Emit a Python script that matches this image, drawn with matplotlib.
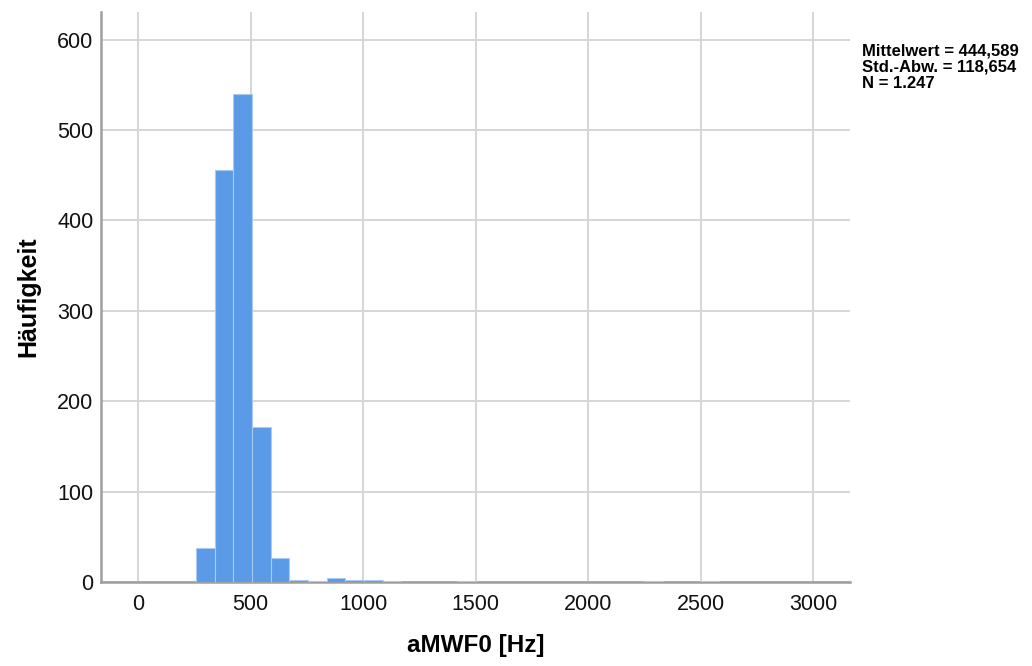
import numpy as np
import matplotlib
matplotlib.use("Agg")
import matplotlib.pyplot as plt

# Histogram of aMWF0 [Hz]: bin edges and counts
bin_start = 257.0
bin_width = 83.0
bin_index = [0, 1, 2, 3, 4, 5, 6, 7, 8, 9, 10, 14, 24, 27]
counts = [38, 456, 540, 171, 27, 2, 1, 4, 2, 2, 1, 1, 1, 1]

x_ticks = [0, 500, 1000, 1500, 2000, 2500, 3000]
y_ticks = [0, 100, 200, 300, 400, 500, 600]
x_label = "aMWF0 [Hz]"
y_label = "Häufigkeit"
stats_lines = ["Mittelwert = 444,589", "Std.-Abw. = 118,654", "N = 1.247"]

plt.rcParams['font.family'] = ['Liberation Sans', 'DejaVu Sans']

fig = plt.figure(figsize=(10.32, 6.66), dpi=100)
W, H = 1032, 666
ax = fig.add_axes([101 / W, 1 - 582 / H, (850 - 101) / W, (582 - 12) / H])

lefts = [bin_start + i * bin_width for i in bin_index]
ax.bar(lefts, counts, width=bin_width, align='edge', color='#5A9AE7',
       edgecolor='#A9CBF3', linewidth=0.8, zorder=3)

ax.set_xlim(-165, 3163)
ax.set_ylim(0, 630.5)
ax.set_xticks(x_ticks)
ax.set_yticks(y_ticks)
ax.grid(True, color='#D6D6D6', linewidth=1.4, zorder=0)
ax.set_axisbelow(True)

for side in ['top', 'right']:
    ax.spines[side].set_visible(False)
for side in ['left', 'bottom']:
    ax.spines[side].set_color('#9E9E9E')
    ax.spines[side].set_linewidth(1.8)

ax.tick_params(axis='both', length=0, labelsize=15.5, colors='#111111')
ax.tick_params(axis='x', pad=8.5)
ax.tick_params(axis='y', pad=5.5)

ax.set_xlabel(x_label, fontsize=17.5, fontweight='bold', labelpad=14)
ax.set_ylabel(y_label, fontsize=18, fontweight='bold', labelpad=12)

# Summary statistics beside the plot area, one line each
for i, line in enumerate(stats_lines):
    fig.text(862 / W, 1 - (43 + i * 16.5) / H, line, fontsize=12,
             fontweight='bold', va='top', ha='left')

fig.savefig("out.png", dpi=100, facecolor='white')
